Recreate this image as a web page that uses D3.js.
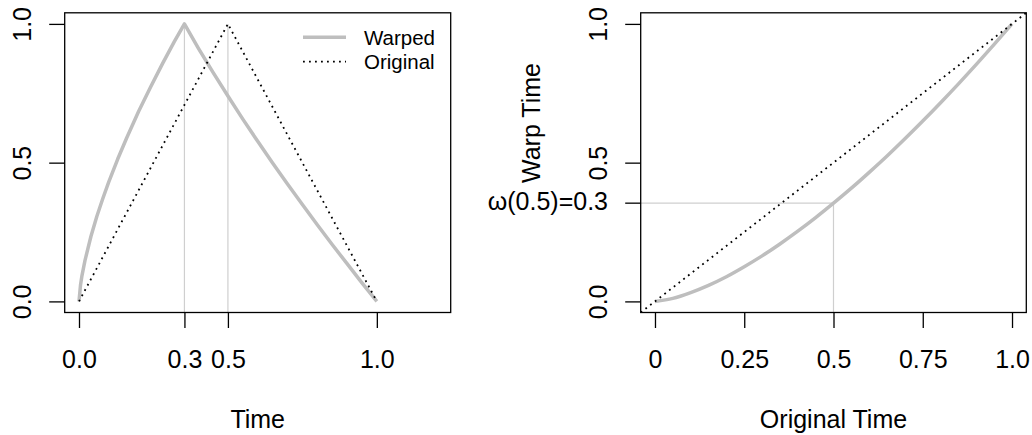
<!DOCTYPE html>
<html><head><meta charset="utf-8">
<script src="https://cdn.jsdelivr.net/npm/d3@7"></script>
<style>
body{margin:0;background:#fff;}
text{font-family:"Liberation Sans",Arial,Helvetica,sans-serif;fill:#000;}
</style></head>
<body><svg id="c" width="1032" height="435"></svg>
<script>
// ---- data ----
const originalT = [0, 0.5, 1];
const originalY = [0, 1, 0];
const warpedT = [0, 0.005, 0.01, 0.02, 0.04, 0.06, 0.08, 0.10, 0.13, 0.16, 0.20, 0.24, 0.28, 0.32, 0.354,
                 0.40, 0.45, 0.50, 0.55, 0.60, 0.65, 0.70, 0.75, 0.80, 0.85, 0.90, 0.95, 1.00];
const warpedY = [0, 0.058, 0.093, 0.147, 0.234, 0.307, 0.371, 0.431, 0.513, 0.589, 0.684, 0.772, 0.856, 0.936, 1.0,
                 0.914, 0.825, 0.740, 0.657, 0.577, 0.499, 0.423, 0.349, 0.276, 0.205, 0.136, 0.067, 0];
const peakWarped = 0.354, peakOriginal = 0.5;
const leftXTicks = [0, 0.354, 0.5, 1];
const leftXLabels = ["0.0", "0.3", "0.5", "1.0"];
const leftYTicks = [0, 0.5, 1];
const leftYLabels = ["0.0", "0.5", "1.0"];
const legendLabels = ["Warped", "Original"];

const origTime = [0, 0.05, 0.1, 0.15, 0.2, 0.25, 0.3, 0.35, 0.4, 0.45, 0.5, 0.55, 0.6, 0.65, 0.7, 0.75, 0.8, 0.85, 0.9, 0.95, 1.0];
const warpTime = [0, 0.011, 0.032, 0.058, 0.089, 0.125, 0.164, 0.207, 0.253, 0.302, 0.354, 0.408, 0.465, 0.524, 0.586, 0.650, 0.716, 0.784, 0.854, 0.926, 1.0];
const markX = 0.5, markY = 0.354;
const rightXTicks = [0, 0.25, 0.5, 0.75, 1];
const rightXLabels = ["0", "0.25", "0.5", "0.75", "1.0"];
const rightYTicks = [0, 0.5, 1];
const rightYLabels = ["0.0", "0.5", "1.0"];
const markLabel = "ω(0.5)=0.3";

// ---- drawing ----
const svg = d3.select("#c");
const FS = 25, GREY = "#bebebe", REF = "#cfcfcf";
const plotTop = 12.8, plotBottom = 312.5;

function panel(x0, x1, xdom) {
  const x = d3.scaleLinear().domain(xdom).range([x0, x1]);
  const y = d3.scaleLinear().domain([-0.04, 1.04]).range([plotBottom, plotTop]);
  return {x, y};
}

function axes(g, s, xt, xl, yt, yl) {
  const xa = d3.axisBottom(s.x).tickValues(xt).tickFormat((d, i) => xl[i]).tickSize(15.5).tickPadding(7).tickSizeOuter(0);
  const gx = g.append("g").attr("transform", `translate(0,${plotBottom})`).call(xa);
  gx.select(".domain").remove();
  gx.selectAll("line").attr("stroke", "#000").attr("stroke-width", 1.3);
  gx.selectAll("text").attr("font-size", FS).attr("dy", null).attr("y", 55.5).attr("fill", "#000");
  const ya = d3.axisLeft(s.y).tickValues(yt).tickFormat((d, i) => yl[i]).tickSize(15.5).tickSizeOuter(0);
  const gy = g.append("g").attr("transform", `translate(${s.x.range()[0]},0)`).call(ya);
  gy.select(".domain").remove();
  gy.selectAll("line").attr("stroke", "#000").attr("stroke-width", 1.3);
  gy.selectAll("text").attr("font-size", FS).attr("x", null).attr("dy", null).attr("fill", "#000")
    .attr("text-anchor", "middle")
    .attr("transform", "translate(-34,0) rotate(-90)");
  g.append("rect").attr("x", s.x.range()[0]).attr("y", plotTop)
    .attr("width", s.x.range()[1] - s.x.range()[0]).attr("height", plotBottom - plotTop)
    .attr("fill", "none").attr("stroke", "#000").attr("stroke-width", 1.3);
}

// Left panel
const L = panel(64.7, 450.7, [-0.048, 1.248]);
const gl = svg.append("g");
svg.append("clipPath").attr("id", "clipL").append("rect")
  .attr("x", 64.7).attr("y", plotTop).attr("width", 386).attr("height", plotBottom - plotTop);
const pl = gl.append("g").attr("clip-path", "url(#clipL)");
[peakWarped, peakOriginal].forEach(v => {
  pl.append("line").attr("x1", L.x(v)).attr("x2", L.x(v)).attr("y1", L.y(-0.04)).attr("y2", L.y(1))
    .attr("stroke", REF).attr("stroke-width", 1.2);
});
const lineL = d3.line().x(d => L.x(d[0])).y(d => L.y(d[1]));
pl.append("path").datum(warpedT.map((t, i) => [t, warpedY[i]])).attr("d", lineL)
  .attr("fill", "none").attr("stroke", GREY).attr("stroke-width", 3.5).attr("stroke-linejoin", "round");
pl.append("path").datum(originalT.map((t, i) => [t, originalY[i]])).attr("d", lineL)
  .attr("fill", "none").attr("stroke", "#000").attr("stroke-width", 1.8).attr("stroke-dasharray", "1.8,4.2");
axes(gl, L, leftXTicks, leftXLabels, leftYTicks, leftYLabels);
gl.append("text").attr("x", (64.7 + 450.7) / 2).attr("y", 428).attr("text-anchor", "middle").attr("font-size", FS).text("Time");
// legend
const lg = gl.append("g");
lg.append("line").attr("x1", 303).attr("x2", 346).attr("y1", 37.3).attr("y2", 37.3).attr("stroke", GREY).attr("stroke-width", 3.5);
lg.append("line").attr("x1", 303).attr("x2", 346).attr("y1", 61.7).attr("y2", 61.7).attr("stroke", "#000").attr("stroke-width", 1.8).attr("stroke-dasharray", "1.8,4.2");
legendLabels.forEach((t, i) => lg.append("text").attr("x", 364).attr("y", 44.5 + i * 24.4).attr("font-size", 20.5).text(t));

// Right panel
const R = panel(640.7, 1026.3, [-0.04, 1.04]);
const gr = svg.append("g");
svg.append("clipPath").attr("id", "clipR").append("rect")
  .attr("x", 640.7).attr("y", plotTop).attr("width", 1026.3 - 640.7).attr("height", plotBottom - plotTop);
const pr = gr.append("g").attr("clip-path", "url(#clipR)");
pr.append("line").attr("x1", R.x(-0.04)).attr("x2", R.x(markX)).attr("y1", R.y(markY)).attr("y2", R.y(markY))
  .attr("stroke", REF).attr("stroke-width", 1.2);
pr.append("line").attr("x1", R.x(markX)).attr("x2", R.x(markX)).attr("y1", R.y(-0.04)).attr("y2", R.y(markY))
  .attr("stroke", REF).attr("stroke-width", 1.2);
const lineR = d3.line().x(d => R.x(d[0])).y(d => R.y(d[1])).curve(d3.curveMonotoneX);
pr.append("path").datum(origTime.map((t, i) => [t, warpTime[i]])).attr("d", lineR)
  .attr("fill", "none").attr("stroke", GREY).attr("stroke-width", 3.5);
pr.append("path").datum([[-0.04, -0.04], [1.04, 1.04]]).attr("d", d3.line().x(d => R.x(d[0])).y(d => R.y(d[1])))
  .attr("fill", "none").attr("stroke", "#000").attr("stroke-width", 1.8).attr("stroke-dasharray", "1.8,4.2");
axes(gr, R, rightXTicks, rightXLabels, rightYTicks, rightYLabels);
// extra tick at mark
gr.append("line").attr("x1", 640.7 - 15.5).attr("x2", 640.7).attr("y1", R.y(markY)).attr("y2", R.y(markY))
  .attr("stroke", "#000").attr("stroke-width", 1.3);
gr.append("text").attr("x", 608).attr("y", R.y(markY) + 6.5).attr("text-anchor", "end").attr("font-size", FS).text(markLabel);
gr.append("text").attr("x", (640.7 + 1026.3) / 2).attr("y", 428).attr("text-anchor", "middle").attr("font-size", FS).text("Original Time");
gr.append("text").attr("transform", "translate(540,123) rotate(-90)").attr("text-anchor", "middle").attr("font-size", FS).text("Warp Time");
</script></body></html>
